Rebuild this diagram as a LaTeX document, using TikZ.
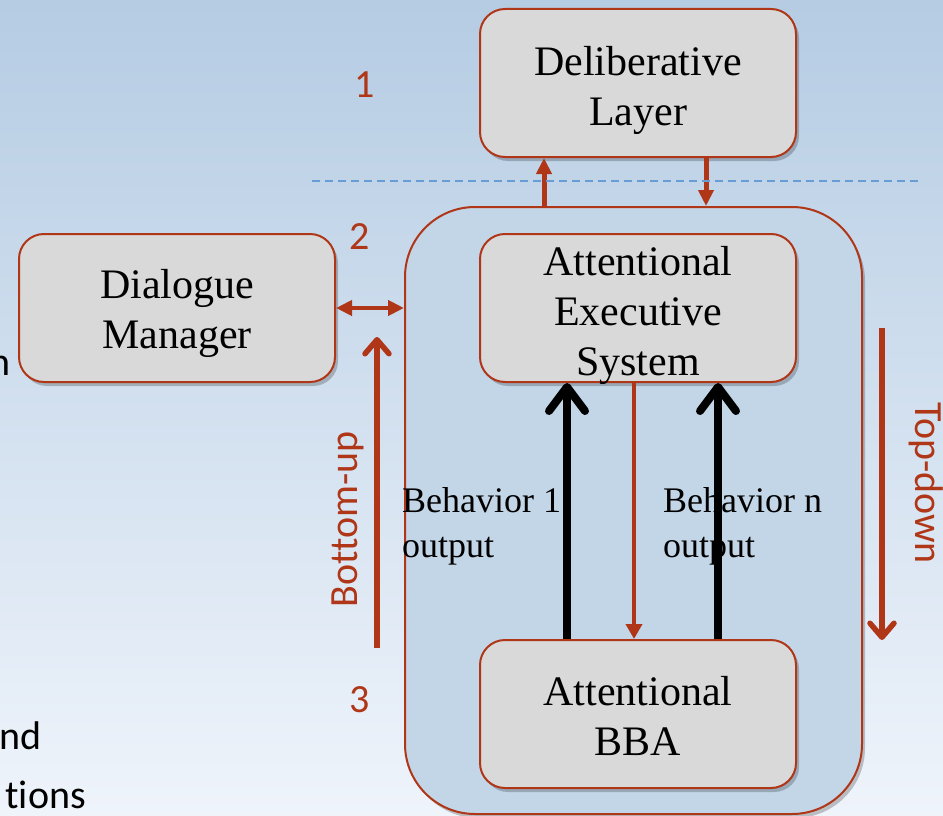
\documentclass[tikz,border=0pt]{standalone}
\usepackage{fontspec}
\setmainfont{Liberation Serif}
\newfontfamily\labelfont[Ligatures=NoCommon]{Carlito}
\usetikzlibrary{arrows.meta,shadows}
\definecolor{rust}{RGB}{176,54,24}
\definecolor{boxgray}{RGB}{217,217,217}
\definecolor{bgtop}{RGB}{181,204,227}
\definecolor{bgbot}{RGB}{239,244,251}
\definecolor{panelblue}{RGB}{195,214,232}
\definecolor{dashblue}{RGB}{104,156,212}
\begin{document}
\begin{tikzpicture}[x=1pt,y=-1pt,
  shadowed/.style={drop shadow={shadow xshift=3pt,shadow yshift=-4pt,opacity=0.22,fill=black}},
  block/.style={draw=rust,line width=2pt,fill=boxgray,rounded corners=25pt,
    minimum width=316pt,minimum height=148pt,inner sep=0pt,shadowed},
  blocktext/.style={anchor=north,inner sep=0pt,align=center,font=\fontsize{42}{50}\selectfont},
  behtext/.style={anchor=north west,inner sep=0pt,align=left,font=\fontsize{36}{45}\selectfont},
  slidetext/.style={anchor=base east,inner sep=0pt,font=\labelfont\fontsize{40}{48}\selectfont},
  numtag/.style={text=rust,inner sep=0pt,font=\labelfont\fontsize{40}{48}\selectfont},
  layerlink/.style={draw=rust,line width=5pt,-{Triangle[length=16pt,width=15pt]}},
  thinlink/.style={draw=rust,line width=4pt,-{Triangle[length=15pt,width=16pt]}},
  dirflow/.style={draw=rust,line width=5.5pt,-{Straight Barb[length=14pt,width=24pt,round]}},
  behflow/.style={draw=black,line width=8pt,-{Straight Barb[length=24pt,width=36pt,round]}},
]
\useasboundingbox (0,0) rectangle (943,816);
% background
\fill[top color=bgtop,bottom color=bgbot] (0,0) rectangle (943,816);

% slide text behind the diagram
\node[slidetext] (s1) at (11,375) {n};
\node[slidetext] (s2) at (42,749) {nd};
\node[slidetext] (s3) at (86,808) {tions};

% outer panel holding the attentional system
\node[draw=rust,line width=2pt,fill=panelblue,rounded corners=70pt,
  minimum width=457pt,minimum height=607pt,inner sep=0pt,shadowed] (panel) at (633.5,510.5) {};

% boxes
\node[block] (delib) at (638,83) {};
\node[block] (dm) at (177,308) {};
\node[block] (aes) at (638,308) {};
\node[block] (bba) at (638,714) {};

\node[blocktext] (delibt) at (638,46) {Deliberative\\Layer};
\node[blocktext] (dmt) at (177,269) {Dialogue\\Manager};
\node[blocktext] (aest) at (638,246) {Attentional\\Executive\\System};
\node[blocktext] (bbat) at (638,676) {Attentional\\BBA};

% behaviour output labels
\node[behtext] (b1) at (402,487) {Behavior 1\\output};
\node[behtext] (bn) at (663,487) {Behavior n\\output};

% level numbers
\node[numtag] (n1) at (365,85) {1};
\node[numtag] (n2) at (360,237) {2};
\node[numtag] (n3) at (360,700) {3};

% direction labels
\node[numtag,rotate=90] (bu) at (348,519) {Bottom-up};
\node[numtag,rotate=-90] (td) at (926,483) {Top-down};

% links between layers
\draw[layerlink] ([xshift=-94pt]panel.north -| delib.south) -- ([xshift=-94pt]delib.south);
\draw[layerlink] ([xshift=68pt]delib.south) -- ([xshift=68pt]panel.north -| delib.south);
\draw[draw=rust,line width=4.5pt,{Triangle[length=16pt,width=15pt]}-{Triangle[length=16pt,width=15pt]}]
  (dm.east) -- (panel.west |- dm.east);

% behaviour outputs and top-down control
\draw[behflow] ([xshift=-71pt]bba.north) -- ([xshift=-71pt]aes.south);
\draw[behflow] ([xshift=80pt]bba.north) -- ([xshift=80pt]aes.south);
\draw[thinlink] ([xshift=-4pt]aes.south) -- ([xshift=-4pt]bba.north);

% bottom-up and top-down arrows
\coordinate (bu1) at (377,648);
\coordinate (bu2) at (377,337);
\coordinate (td1) at (882,328);
\coordinate (td2) at (882,640);
\draw[dirflow] (bu1) -- (bu2);
\draw[dirflow] (td1) -- (td2);

% separation between deliberative and reactive levels
\coordinate (dl1) at (312,181);
\coordinate (dl2) at (918,181);
\draw[dashblue,line width=2pt,dash pattern=on 8pt off 5pt] (dl1) -- (dl2);
\end{tikzpicture}
\end{document}
